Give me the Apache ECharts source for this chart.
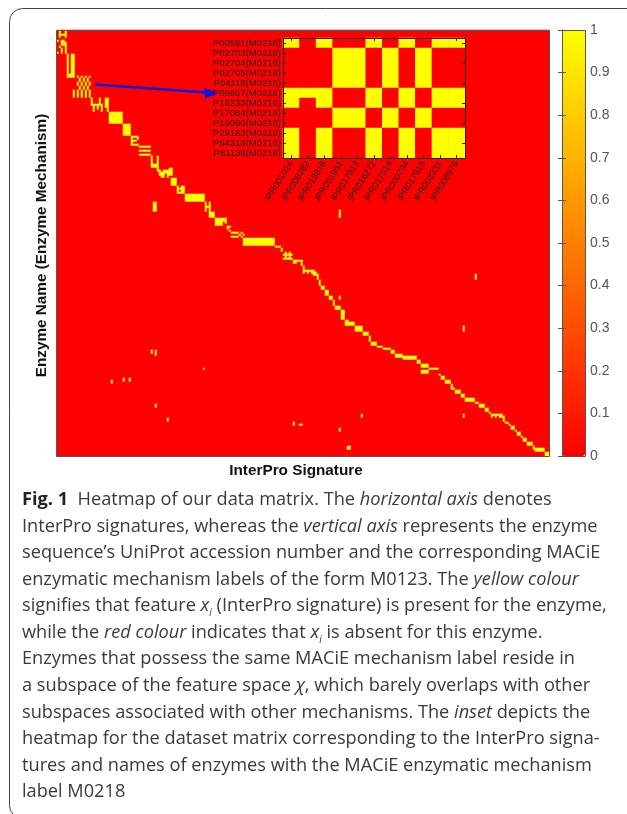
<!DOCTYPE html>
<html><head><meta charset="utf-8">
<style>html,body{margin:0;padding:0;background:#fff}#c{width:627px;height:814px}</style>
<script src="https://cdn.jsdelivr.net/npm/echarts@6/dist/echarts.min.js"></script>
</head><body><div id="c"></div>
<script>
// Matrix size (InterPro signatures x enzyme rows)
const signatureCount = 246;
const enzymeCount = 213;
// Present (=1) runs of the main matrix: [firstCol,lastCol,firstRow,lastRow]
const diagonalBlocks = [
[1,1,0,3],[4,4,0,3],[2,3,2,2],[0,0,5,5],[2,3,5,7],[1,1,8,8],[4,4,6,11],[2,2,9,11],[0,0,11,11],
[5,5,12,22],[7,8,12,22],[5,6,22,23],[6,8,23,23],
[10,10,23,23],[12,12,23,23],[14,14,23,23],[16,16,23,23],
[11,11,24,25],[13,13,24,25],[15,15,24,25],
[10,10,26,27],[12,12,26,27],[14,14,26,27],[16,16,26,27],
[11,11,28,29],[13,13,28,29],[15,15,28,29],
[8,8,30,33],[10,10,30,33],[12,12,30,33],[14,14,30,33],[16,16,30,33],
[17,17,34,37],[18,18,38,40],[18,19,37,37],[20,20,37,39],[21,21,34,37],[22,22,37,40],[24,24,34,38],[25,25,34,40],
[26,32,41,46],[33,36,47,52],
[37,37,53,57],[38,40,53,53],[38,39,55,55],[38,40,57,57],[40,40,54,54],
[41,46,58,58],[41,46,60,60],[41,46,62,62],
[47,47,63,68],[48,49,67,68],[50,50,63,68],
[50,50,68,70],[51,51,70,72],[52,52,71,73],[53,53,70,73],[55,55,70,73],[54,54,70,71],[56,57,69,72],
[57,59,74,77],
[60,60,78,81],[62,62,78,81],[61,63,79,79],[60,63,81,81],[63,63,78,80],
[64,73,82,85],
[74,74,86,90],[75,75,88,88],[76,76,86,90],
[76,78,91,93],
[79,84,94,95],[79,82,96,97],[84,84,96,96],
[85,86,98,98],[85,85,99,99],[86,86,100,100],
[87,90,101,101],[87,90,103,103],[91,91,102,102],[92,92,101,101],[92,92,103,103],[93,93,102,102],
[93,108,104,107],[109,111,108,108],[112,112,109,110],
[114,114,111,114],[116,116,111,114],[113,117,112,112],[113,117,114,114],
[118,119,115,116],[120,122,115,115],[122,122,116,117],[123,123,118,119],
[123,127,120,120],[123,123,121,121],[125,125,121,121],[127,128,120,121],[128,129,121,122],
[130,130,122,124],[131,131,125,127],[132,133,128,129],[134,135,130,132],[136,137,133,134],[138,138,135,137],
[139,141,138,139],[142,143,140,144],[144,145,145,147],
[145,148,146,147],[149,152,148,150],[153,155,151,152],[156,156,153,155],[157,159,156,157],
[160,162,158,158],[163,166,159,159],[167,168,160,161],[169,172,162,163],[173,179,163,164],[180,181,165,166],
[182,185,167,168],[182,185,170,171],[186,190,169,169],[191,191,172,172],[192,193,173,174],[194,196,175,176],
[197,197,177,178],[197,198,179,179],[199,201,180,181],[202,203,182,183],[204,208,184,185],[209,210,186,186],
[211,213,187,188],[214,215,189,190],[216,216,191,191],
[217,222,192,192],[217,217,193,193],[219,219,193,193],[221,221,193,193],[222,222,193,193],
[223,223,193,195],[224,225,196,196],[226,226,197,197],[227,228,198,199],[229,229,200,200],[230,231,201,202],
[232,232,203,203],[233,234,204,205],[235,237,206,207],[238,238,208,209],[239,243,209,210],[244,245,211,212]
];
const offDiagonalBlocks = [
[48,49,86,90],[141,141,90,93],[141,141,133,134],[209,209,122,124],[203,203,148,150],[203,203,192,193],
[152,152,192,193],[121,122,197,197],[141,141,199,200],[145,146,208,209],
[47,47,160,161],[49,49,160,162],[73,73,169,169],[27,27,175,176],[33,33,174,175],[36,36,174,175],
[49,49,187,188],[55,55,194,195],[118,118,196,197]
];
// Inset
const insetEnzymes = ['P00591(M0218)','P02703(M0218)','P02704(M0218)','P02705(M0218)','P04118(M0218)','P06857(M0218)','P16233(M0218)','P17084(M0218)','P19090(M0218)','P29183(M0218)','P54318(M0218)','P81139(M0218)'];
const insetSignatures = ['IPR001024','IPR008282','IPR013818','IPR001961','IPR017913','IPR016272','IPR017914','IPR000734','IPR017915','IPR002331','IPR008976'];
const insetMatrix = [
[1,0,1,0,0,1,0,1,0,1,1],
[0,0,0,1,1,0,1,0,1,0,0],
[0,0,0,1,1,0,1,0,1,0,0],
[0,0,0,1,1,0,1,0,1,0,0],
[0,0,0,1,1,0,1,0,1,0,0],
[1,1,1,0,0,1,0,1,0,1,1],
[1,0,1,0,0,1,0,1,0,1,1],
[0,0,0,1,1,0,1,0,1,0,0],
[0,0,0,1,1,0,1,0,1,0,0],
[1,0,1,0,0,1,0,1,0,1,1],
[1,0,1,0,0,1,0,1,0,1,1],
[1,0,1,0,0,1,0,1,0,1,1]
];
const colorbarMin = 0, colorbarMax = 1, colorbarStep = 0.1;
const xTitle = 'InterPro Signature';
const yTitle = 'Enzyme Name (Enzyme Mechanism)';
// Caption lines: each is a list of [style, text]
const captionLines = [
[['b','Fig. 1'],['n','  Heatmap of our data matrix. The '],['i','horizontal axis'],['n',' denotes']],
[['n','InterPro signatures, whereas the '],['i','vertical axis'],['n',' represents the enzyme']],
[['n','sequence\u2019s UniProt accession number and the corresponding MACiE']],
[['n','enzymatic mechanism labels of the form M0123. The '],['i','yellow colour']],
[['n','signifies that feature '],['i','x'],['s','i'],['n',' (InterPro signature) is present for the enzyme,']],
[['n','while the '],['i','red colour'],['n',' indicates that '],['i','x'],['s','i'],['n',' is absent for this enzyme.']],
[['n','Enzymes that possess the same MACiE mechanism label reside in']],
[['n','a subspace of the feature space '],['i','\u03C7'],['n',', which barely overlaps with other']],
[['n','subspaces associated with other mechanisms. The '],['i','inset'],['n',' depicts the']],
[['n','heatmap for the dataset matrix corresponding to the InterPro signa-']],
[['n','tures and names of enzymes with the MACiE enzymatic mechanism']],
[['n','label M0218']]
];

// Build full main matrix
const present = new Set();
diagonalBlocks.concat(offDiagonalBlocks).forEach(([a,b,c,d])=>{
  for(let x=a;x<=b;x++) for(let y=c;y<=d;y++) present.add(x+'_'+y);
});
const mainData = [];
for(let y=0;y<enzymeCount;y++) for(let x=0;x<signatureCount;x++) mainData.push([x,y,present.has(x+'_'+y)?1:0]);
const insetData = [];
insetMatrix.forEach((r,y)=>r.forEach((v,x)=>insetData.push([x,y,v])));
const idx = n => Array.from({length:n},(_,i)=>String(i));

const M = {l:57,t:30,w:492,h:426}, I = {l:283,t:38,w:182,h:120}, C = {l:562,t:30,w:23,h:426};
const insetAxisCommon = {
  axisLine:{show:true,lineStyle:{color:'#222',width:1}},
  axisTick:{show:true,inside:true,length:3,alignWithLabel:true,lineStyle:{color:'#222'}},
  z:6
};
const chart = echarts.init(document.getElementById('c'),null,{renderer:'canvas'});
const FF = '"Liberation Sans",Arial,sans-serif';
const capFont = '"Open Sans","Noto Sans",sans-serif';
const capSize = 18.2;
const capColor = '#3a3a3a';
const escapeLine = l => l.map(([s,t])=>'{'+s+'|'+t+'}').join('');
const caption = captionLines.map((l,i)=>({
  type:'text', left:22, top:491+i*26.55, z:100, silent:true,
  style:{ text:escapeLine(l), fill:capColor, font:capSize+'px '+capFont,
    rich:{
      n:{fontFamily:capFont,fontSize:capSize,fill:capColor,color:capColor,lineHeight:24},
      b:{fontFamily:capFont,fontSize:capSize,fontWeight:'bold',fill:'#222',color:'#222',lineHeight:24},
      i:{fontFamily:capFont,fontSize:capSize,fontStyle:'italic',fill:capColor,color:capColor,lineHeight:24},
      s:{fontFamily:capFont,fontSize:10,fontStyle:'italic',fill:capColor,color:capColor,lineHeight:24,verticalAlign:'bottom'}
    }}
}));
chart.setOption({
  animation:false,
  backgroundColor:'#fff',
  grid:[
    {left:M.l,top:M.t,width:M.w,height:M.h},
    {left:I.l,top:I.t,width:I.w,height:I.h},
    {left:C.l,top:C.t,width:C.w,height:C.h}
  ],
  xAxis:[
    {gridIndex:0,type:'category',data:idx(signatureCount),axisLine:{show:false},axisTick:{show:false},axisLabel:{show:false},splitLine:{show:false},
      name:xTitle,nameLocation:'middle',nameGap:15,nameTextStyle:{color:'#111',fontFamily:FF,fontWeight:'bold',fontSize:15.3,verticalAlign:'middle',padding:[0,14,0,0]}},
    Object.assign({gridIndex:1,type:'category',data:insetSignatures,position:'bottom',
      axisLabel:{rotate:58,interval:0,fontFamily:FF,fontSize:9,color:'#222',margin:4}},insetAxisCommon),
    Object.assign({gridIndex:1,type:'category',data:insetSignatures,position:'top',axisLabel:{show:false}},insetAxisCommon),
    {gridIndex:2,type:'value',min:0,max:1,show:false}
  ],
  yAxis:[
    {gridIndex:0,type:'category',inverse:true,data:idx(enzymeCount),axisLine:{show:false},axisTick:{show:false},axisLabel:{show:false},splitLine:{show:false},
      name:yTitle,nameLocation:'middle',nameGap:15,nameRotate:90,nameTextStyle:{color:'#111',fontFamily:FF,fontWeight:'bold',fontSize:15.3,verticalAlign:'middle',padding:[0,5,0,0]}},
    Object.assign({gridIndex:1,type:'category',inverse:true,data:insetEnzymes,position:'left',
      axisLabel:{interval:0,fontFamily:FF,fontSize:9.5,color:'#222',margin:2}},insetAxisCommon),
    Object.assign({gridIndex:1,type:'category',inverse:true,data:insetEnzymes,position:'right',axisLabel:{show:false}},insetAxisCommon),
    {gridIndex:2,type:'value',position:'right',min:colorbarMin,max:colorbarMax,interval:colorbarStep,z:8,
      axisLine:{show:true,lineStyle:{color:'#555'}},axisTick:{show:true,inside:true,length:4,lineStyle:{color:'#555'}},splitLine:{show:false},
      axisLabel:{fontFamily:FF,fontSize:14,color:'#555',margin:5}},
    {gridIndex:2,type:'value',position:'left',min:colorbarMin,max:colorbarMax,interval:colorbarStep,z:8,
      axisLine:{show:true,lineStyle:{color:'#555'}},axisTick:{show:true,inside:true,length:4,lineStyle:{color:'#555'}},splitLine:{show:false},axisLabel:{show:false}}
  ],
  visualMap:[{type:'continuous',min:colorbarMin,max:colorbarMax,seriesIndex:[0,1],calculable:false,
    left:C.l,top:C.t,padding:0,itemWidth:C.w,itemHeight:C.h,showLabel:false,text:null,hoverLink:false,
    inRange:{color:['#ff0000','#ffff00']}}],
  series:[
    {type:'heatmap',xAxisIndex:0,yAxisIndex:0,data:mainData,progressive:0,silent:true,emphasis:{disabled:true},itemStyle:{borderWidth:0}},
    {type:'heatmap',xAxisIndex:1,yAxisIndex:1,data:insetData,progressive:0,silent:true,emphasis:{disabled:true},itemStyle:{borderWidth:0},z:3}
  ],
  graphic:{elements:[
    {type:'rect',silent:true,z:50,shape:{x:9.5,y:8.5,width:760,height:810,r:13},style:{fill:'none',stroke:'#444',lineWidth:1}},
    {type:'rect',silent:true,z:50,shape:{x:M.l-0.5,y:M.t+0.5,width:M.w+1,height:M.h},style:{fill:'none',stroke:'#555',lineWidth:1}},
    {type:'rect',silent:true,z:50,shape:{x:C.l+0.5,y:C.t+0.5,width:C.w,height:C.h},style:{fill:'none',stroke:'#555',lineWidth:1}},
    {type:'line',silent:true,z:60,shape:{x1:95,y1:84.5,x2:207,y2:92.5},style:{stroke:'#1414d8',lineWidth:2.5}},
    {type:'polygon',silent:true,z:60,shape:{points:[[218,93],[204,87.5],[205,98.5]]},style:{fill:'#1414d8'}}
  ].concat(caption)}
});
</script></body></html>
